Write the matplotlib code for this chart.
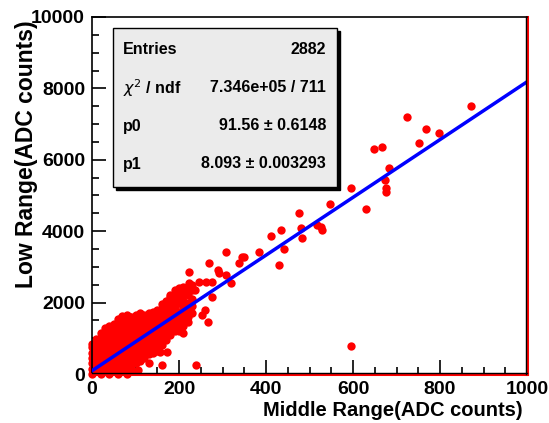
import matplotlib
matplotlib.use("Agg")
import matplotlib.pyplot as plt
from matplotlib.patches import Rectangle
from matplotlib.ticker import MultipleLocator
import numpy as np

plt.rcParams['font.family'] = ['Liberation Sans', 'DejaVu Sans']

# ---- data ----
cluster_cols = [0, 10, 20, 30, 40, 50, 60, 70, 80, 90, 100, 110, 120, 130,
                140, 150, 160, 170, 180, 190, 200, 210, 220, 230]
cluster_vals = [
    [0, 150, 300, 450, 600, 750, 850],
    [75, 225, 375, 525, 675, 825, 975],
    [0, 150, 300, 450, 600, 750, 900, 1050, 1150],
    [75, 225, 375, 525, 675, 825, 975, 1125, 1275],
    [0, 150, 300, 450, 600, 750, 900, 1050, 1200, 1350],
    [75, 225, 375, 525, 675, 825, 975, 1125, 1275, 1400],
    [0, 150, 300, 450, 600, 750, 900, 1050, 1200, 1350, 1550],
    [75, 225, 375, 525, 675, 825, 975, 1125, 1275, 1425, 1625],
    [0, 150, 300, 450, 600, 750, 900, 1050, 1200, 1350, 1500, 1650],
    [100, 250, 400, 550, 700, 850, 1000, 1150, 1300, 1450, 1600],
    [300, 450, 600, 750, 900, 1050, 1200, 1350, 1500, 1650],
    [375, 525, 675, 825, 975, 1125, 1275, 1425, 1575, 1700],
    [450, 600, 750, 900, 1050, 1200, 1350, 1500, 1650],
    [550, 700, 850, 1000, 1150, 1300, 1450, 1600, 1700],
    [600, 750, 900, 1050, 1200, 1350, 1500, 1650, 1750],
    [650, 800, 950, 1100, 1250, 1400, 1550, 1700, 1800],
    [800, 950, 1100, 1250, 1400, 1550, 1700, 1850, 1950],
    [950, 1100, 1250, 1400, 1550, 1700, 1850, 2000, 2050],
    [1100, 1250, 1400, 1550, 1700, 1850, 2000, 2150, 2200],
    [1200, 1350, 1500, 1700, 1900, 2050, 2200, 2350],
    [1300, 1450, 1600, 1750, 2000, 2150, 2300, 2400],
    [1350, 1500, 1650, 1850, 2050, 2250, 2450],
    [1450, 1600, 1800, 2000, 2200, 2450],
    [1700, 1900, 2100, 2350, 2500],
]

scatter_x = [872, 724, 767, 797, 751, 648, 667, 683, 674, 676, 676, 596, 548,
             477, 630, 435, 481, 483, 518, 527, 529, 442, 431, 412, 596,
             307, 344, 350, 383, 339, 270, 224, 289, 293, 309, 320, 275, 263,
             247, 224, 220, 236, 206, 195, 259, 254, 266, 277, 185, 201,
             69, 87, 94, 105, 156, 172, 160, 202, 209, 240, 130]
scatter_y = [7500, 7200, 6860, 6750, 6470, 6300, 6350, 5770, 5430, 5210, 5100,
             5210, 4760, 4500, 4620, 4030, 4090, 3810, 4170, 4120, 4030, 3500,
             3040, 3870, 780,
             3420, 3280, 3280, 3420, 3110, 3110, 2860, 2910, 2830, 2770, 2550,
             2580, 2580, 2580, 2550, 2300, 2350, 2210, 2000, 1790, 1650, 1460,
             2160, 1430, 1200,
             1600, 1600, 1510, 110, 620, 620, 250, 1230, 1150, 250, 300]

fit_x = [0, 1000]
fit_y = [91.56, 8184.56]

stats_labels = ["Entries", "$\\chi^{2}$ / ndf", "p0", "p1"]
stats_values = ["2882", "7.346e+05 / 711", "91.56 \u00b1 0.6148", "8.093 \u00b1 0.003293"]

x_label = "Middle Range(ADC counts)"
y_label = "Low Range(ADC counts)"

# ---- figure ----
W, H = 549, 423
fig = plt.figure(figsize=(W / 100, H / 100), dpi=100)
L, R, T, B = 92, 527, 17, 374
ax = fig.add_axes([L / W, 1 - B / H, (R - L) / W, (B - T) / H])

cx = []
cy = []
for xv, ys in zip(cluster_cols, cluster_vals):
    for yv in ys:
        cx.append(xv)
        cy.append(yv)

ax.plot(cx, cy, 'o', color='#ff0000', markersize=6, markeredgewidth=0,
        clip_on=False, zorder=2)
ax.plot(scatter_x, scatter_y, 'o', color='#ff0000', markersize=6,
        markeredgewidth=0, clip_on=False, zorder=2)
ax.plot(fit_x, fit_y, '-', color='#0000ff', linewidth=2.5, zorder=3)

ax.set_xlim(0, 1000)
ax.set_ylim(0, 10000)

ax.xaxis.set_major_locator(MultipleLocator(200))
ax.xaxis.set_minor_locator(MultipleLocator(50))
ax.yaxis.set_major_locator(MultipleLocator(2000))
ax.yaxis.set_minor_locator(MultipleLocator(500))
ax.tick_params(which='both', direction='in', top=False, right=False,
               colors='black', width=1.2)
ax.tick_params(which='major', length=10, labelsize=14, pad=5)
ax.tick_params(which='minor', length=5)
for lab in ax.get_xticklabels() + ax.get_yticklabels():
    lab.set_fontweight('bold')

for s in ['left', 'top']:
    ax.spines[s].set_color('black')
    ax.spines[s].set_linewidth(1.2)
for s in ['bottom', 'right']:
    ax.spines[s].set_color('#ff0000')
    ax.spines[s].set_linewidth(2.2)
# thin black frame line next to the red edges
ax.plot([0, 1], [0.003, 0.003], transform=ax.transAxes, color='black',
        lw=1.0, clip_on=False, zorder=4)
ax.plot([0.997, 0.997], [0, 1], transform=ax.transAxes, color='black',
        lw=1.0, clip_on=False, zorder=4)

fig.text(R / W - 0.008, 1 - 410 / H, x_label, ha='right', va='center',
         fontsize=14.5, fontweight='bold')
fig.text(27 / W, 1 - 20 / H, y_label, ha='center', va='top', rotation=90,
         fontsize=16.5, fontweight='bold')

# stats box with shadow
bx0, by0, bx1, by1 = 113, 28, 337, 187
fig.patches.append(Rectangle(((bx0 + 3) / W, 1 - (by1 + 3) / H),
                             (bx1 - bx0) / W, (by1 - by0) / H,
                             transform=fig.transFigure, facecolor='black',
                             edgecolor='black', zorder=5))
fig.patches.append(Rectangle((bx0 / W, 1 - by1 / H),
                             (bx1 - bx0) / W, (by1 - by0) / H,
                             transform=fig.transFigure, facecolor='#ebebeb',
                             edgecolor='black', linewidth=1.0, zorder=6))
rows_y = [49, 88, 126, 164]
for lab, val, ry in zip(stats_labels, stats_values, rows_y):
    fig.text(123 / W, 1 - ry / H, lab, ha='left', va='center', fontsize=11.5,
             fontweight='bold', zorder=7)
    fig.text(326 / W, 1 - ry / H, val, ha='right', va='center', fontsize=11.5,
             fontweight='bold', zorder=7)

fig.savefig("out.png", dpi=100)
